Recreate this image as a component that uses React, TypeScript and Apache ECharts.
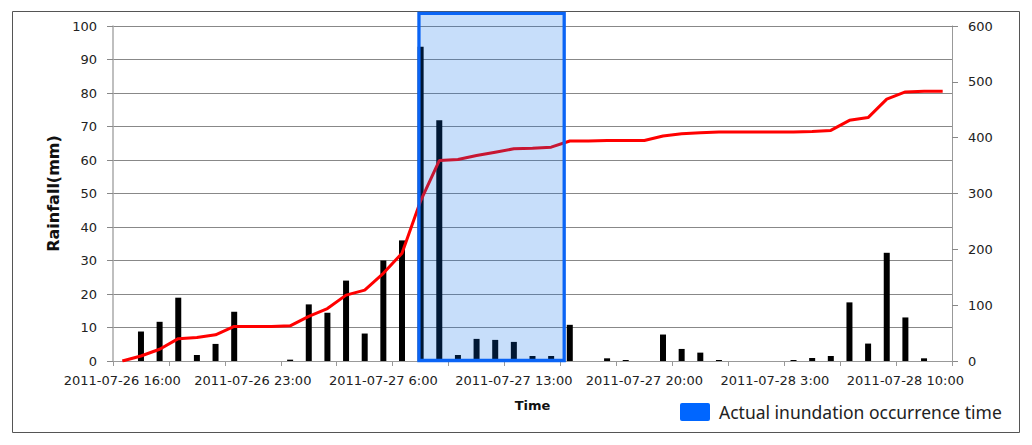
import React, { useEffect, useRef } from "react";
import * as echarts from "echarts";

const categories = [
  "2011-07-26 16:00", "2011-07-26 17:00", "2011-07-26 18:00", "2011-07-26 19:00",
  "2011-07-26 20:00", "2011-07-26 21:00", "2011-07-26 22:00", "2011-07-26 23:00",
  "2011-07-27 0:00", "2011-07-27 1:00", "2011-07-27 2:00", "2011-07-27 3:00",
  "2011-07-27 4:00", "2011-07-27 5:00", "2011-07-27 6:00", "2011-07-27 7:00",
  "2011-07-27 8:00", "2011-07-27 9:00", "2011-07-27 10:00", "2011-07-27 11:00",
  "2011-07-27 12:00", "2011-07-27 13:00", "2011-07-27 14:00", "2011-07-27 15:00",
  "2011-07-27 16:00", "2011-07-27 17:00", "2011-07-27 18:00", "2011-07-27 19:00",
  "2011-07-27 20:00", "2011-07-27 21:00", "2011-07-27 22:00", "2011-07-27 23:00",
  "2011-07-28 0:00", "2011-07-28 1:00", "2011-07-28 2:00", "2011-07-28 3:00",
  "2011-07-28 4:00", "2011-07-28 5:00", "2011-07-28 6:00", "2011-07-28 7:00",
  "2011-07-28 8:00", "2011-07-28 9:00", "2011-07-28 10:00", "2011-07-28 11:00",
  "2011-07-28 12:00",
];

const rainfall = [
  0, 8.8, 11.7, 18.9, 1.8, 5.1, 14.7, 0, 0, 0.4, 16.9, 14.4, 24, 8.2, 30, 36,
  93.8, 71.9, 1.8, 6.6, 6.3, 5.7, 1.5, 1.5, 10.8, 0, 0.8, 0.3, 0, 7.9, 3.6, 2.5,
  0.3, 0, 0, 0, 0.3, 0.9, 1.5, 17.5, 5.2, 32.3, 13, 0.8, 0,
];

const cumulative = [
  0, 9, 21, 40, 42, 47, 62, 62, 62, 63, 80, 94, 118, 127, 157, 193,
  287, 359, 361, 368, 374, 380, 381, 383, 394, 394, 395, 395, 395, 403, 407, 409,
  410, 410, 410, 410, 410, 411, 413, 431, 436, 469, 482, 483, 483,
];

const leftTicks = { min: 0, max: 100, interval: 10 };
const rightTicks = { min: 0, max: 600, interval: 100 };

const inundationStart = "2011-07-27 8:00";
const inundationEnd = "2011-07-27 16:00";
const legendText = "Actual inundation occurrence time";

const FONT = "DejaVu Sans";

export default function App() {
  const ref = useRef<HTMLDivElement>(null);

  useEffect(() => {
    if (!ref.current) return;
    const chart = echarts.init(ref.current, null, { renderer: "svg" });
    const option: any = {
      animation: false,
      backgroundColor: "#ffffff",
      grid: { left: 113, right: 80, top: 26, bottom: 84, containLabel: false },
      xAxis: {
        type: "category",
        data: categories,
        boundaryGap: true,
        name: "Time",
        nameLocation: "middle",
        nameGap: 38,
        nameTextStyle: { fontFamily: FONT, fontWeight: "bold", fontSize: 13, color: "#111" },
        axisLine: { show: true, lineStyle: { color: "#999", width: 1 } },
        axisTick: { show: true, interval: 2, length: 5, lineStyle: { color: "#999" } },
        axisLabel: { interval: 6, fontFamily: FONT, fontSize: 13, color: "#222", margin: 13 },
        splitLine: { show: false },
      },
      yAxis: [
        {
          type: "value",
          ...leftTicks,
          name: "Rainfall(mm)",
          nameLocation: "middle",
          nameGap: 52,
          nameTextStyle: { fontFamily: FONT, fontWeight: "bold", fontSize: 16, color: "#111" },
          axisLine: { show: true, lineStyle: { color: "#aaa", width: 1.5 } },
          axisTick: { show: true, length: 6, lineStyle: { color: "#888" } },
          axisLabel: { fontFamily: FONT, fontSize: 13, color: "#222", margin: 16 },
          splitLine: { show: true, lineStyle: { color: "#888", width: 1 } },
        },
        {
          type: "value",
          ...rightTicks,
          position: "right",
          axisLine: { show: true, lineStyle: { color: "#999", width: 1 } },
          axisTick: { show: true, length: 6, lineStyle: { color: "#888" } },
          axisLabel: { fontFamily: FONT, fontSize: 13, color: "#222", margin: 16 },
          splitLine: { show: false },
        },
      ],
      series: [
        {
          type: "bar",
          name: "Rainfall",
          data: rainfall,
          barWidth: 6,
          itemStyle: { color: "#000000" },
          z: 2,
        },
        {
          type: "line",
          name: "Cumulative",
          yAxisIndex: 1,
          data: cumulative,
          symbol: "none",
          lineStyle: { color: "#ff0000", width: 3 },
          itemStyle: { color: "#ff0000" },
          z: 3,
        },
      ],
    };
    chart.setOption(option);

    const xA = chart.convertToPixel({ xAxisIndex: 0 }, inundationStart) as number;
    const xB = chart.convertToPixel({ xAxisIndex: 0 }, inundationEnd) as number;
    const yBottom = chart.convertToPixel({ yAxisIndex: 0 }, leftTicks.min) as number;
    const yTop = chart.convertToPixel({ yAxisIndex: 0 }, leftTicks.max) as number;
    const band = (xB - xA) / 8;
    const left = xA - 0.09 * band;
    const right = xB - 0.3 * band;
    const top = yTop - 12.7;
    const bottom = yBottom - 0.5;

    chart.setOption({
      graphic: [
        {
          type: "rect",
          z: 0,
          silent: true,
          shape: { x: 12.5, y: 11.5, width: 1007, height: 421 },
          style: { fill: "none", stroke: "#555", lineWidth: 1 },
        },
        {
          type: "rect",
          z: 100,
          silent: true,
          shape: { x: left, y: top, width: right - left, height: bottom - top },
          style: { fill: "rgba(0,107,232,0.22)", stroke: "#0a64f5", lineWidth: 3.3 },
        },
        {
          type: "rect",
          z: 100,
          shape: { x: 680, y: 403, width: 30, height: 18, r: 2 },
          style: { fill: "#0066ff" },
        },
        {
          type: "text",
          z: 100,
          x: 719,
          y: 412,
          style: {
            text: legendText,
            font: "17.5px 'Noto Sans'",
            fill: "#222",
            verticalAlign: "middle",
            align: "left",
          },
        },
      ],
    });

    return () => chart.dispose();
  }, []);

  return (
    <div
      ref={ref}
      style={{ position: "absolute", left: 0, top: 0, width: 1032, height: 445 }}
    />
  );
}
